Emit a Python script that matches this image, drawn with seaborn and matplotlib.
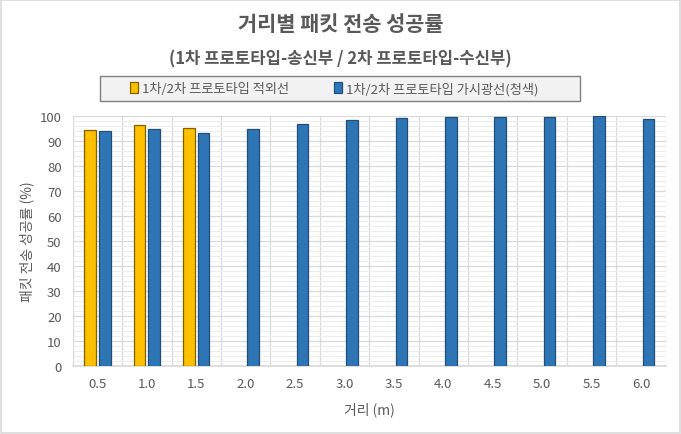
import numpy as np
import pandas as pd
import matplotlib
matplotlib.use("Agg")
import matplotlib.pyplot as plt
import matplotlib.patches as mpatches
import seaborn as sns

# data
distances = ["0.5", "1.0", "1.5", "2.0", "2.5", "3.0", "3.5", "4.0", "4.5", "5.0", "5.5", "6.0"]
infrared = [94.5, 96.5, 95.2, np.nan, np.nan, np.nan, np.nan, np.nan, np.nan, np.nan, np.nan, np.nan]
visible_blue = [94.1, 94.9, 93.3, 94.9, 96.9, 98.4, 99.3, 99.8, 99.8, 99.8, 100.0, 98.9]
series_names = ["1차/2차 프로토타입 적외선", "1차/2차 프로토타입 가시광선(청색)"]

df = pd.DataFrame({
    "distance": distances * 2,
    "rate": infrared + visible_blue,
    "series": [series_names[0]] * len(distances) + [series_names[1]] * len(distances),
})

sns.set_theme(style="white")
plt.rcParams["font.family"] = ["Noto Sans CJK KR", "DejaVu Sans"]

text_gray = "#595959"
fills = ["#FFC000", "#2E75B6"]
edges = ["#7F6000", "#1F4E79"]

fig = plt.figure(figsize=(6.81, 4.35), dpi=100)
ax = fig.add_axes([0.1068, 0.157, 0.8707, 0.5733])

sns.barplot(data=df, x="distance", y="rate", hue="series", order=distances,
            hue_order=series_names, palette=fills, saturation=1, width=0.6, gap=0.22,
            legend=False, ax=ax, zorder=3)

# dark outlines like the original
for cont, ec in zip(ax.containers, edges):
    for bar in cont:
        bar.set_edgecolor(ec)
        bar.set_linewidth(0.9)

ax.set_ylim(0, 100)
ax.set_xlim(-0.5, len(distances) - 0.5)
ax.set_yticks(np.arange(0, 101, 10))
ax.set_yticks(np.arange(0, 101, 2), minor=True)
ax.set_xticks(np.arange(-0.5, len(distances), 1.0), minor=True)

ax.grid(which="major", axis="y", color="#D9D9D9", linewidth=0.9, zorder=0)
ax.grid(which="minor", axis="y", color="#EDEDED", linewidth=0.7, zorder=0)
ax.grid(which="minor", axis="x", color="#D9D9D9", linewidth=0.9, zorder=0)
ax.set_axisbelow(True)

for side in ["top", "left", "right"]:
    ax.spines[side].set_visible(False)
ax.spines["bottom"].set_color("#D9D9D9")
ax.tick_params(which="both", length=0)
ax.tick_params(axis="both", colors=text_gray, labelsize=9.5)
ax.tick_params(axis="y", pad=8)
ax.tick_params(axis="x", pad=8)

ax.set_xlabel("거리 (m)", color=text_gray, fontsize=10, labelpad=8)
ax.set_ylabel("패킷 전송 성공률 (%)", color=text_gray, fontsize=10, labelpad=4)

fig.text(0.5, 0.943, "거리별 패킷 전송 성공률", ha="center", va="center",
         fontsize=15, fontweight="bold", color=text_gray)
fig.text(0.5, 0.864, "(1차 프로토타입-송신부 / 2차 프로토타입-수신부)", ha="center", va="center",
         fontsize=12, fontweight="bold", color=text_gray)

# legend box drawn separately so it can be wider than its entries
fig.patches.append(mpatches.Rectangle((100 / 681, 1 - 102 / 435), 480 / 681, 25 / 435,
                                      transform=fig.transFigure, facecolor="#F2F2F2",
                                      edgecolor="#808080", linewidth=1.0))
handles = [mpatches.Patch(facecolor=f, edgecolor=e, linewidth=0.9) for f, e in zip(fills, edges)]
fig.legend(handles, series_names, loc="center", bbox_to_anchor=(0.491, 1 - 89.5 / 435), ncol=2,
           fontsize=9.5, frameon=False, handlelength=0.6, handleheight=0.9,
           handletextpad=0.3, columnspacing=3.4, labelcolor=text_gray)

# chart area border
fig.patches.append(mpatches.Rectangle((0.002, 0.003), 0.996, 0.994, transform=fig.transFigure,
                                      fill=False, edgecolor="#D9D9D9", linewidth=1.2))

fig.savefig("out.png", dpi=100)
